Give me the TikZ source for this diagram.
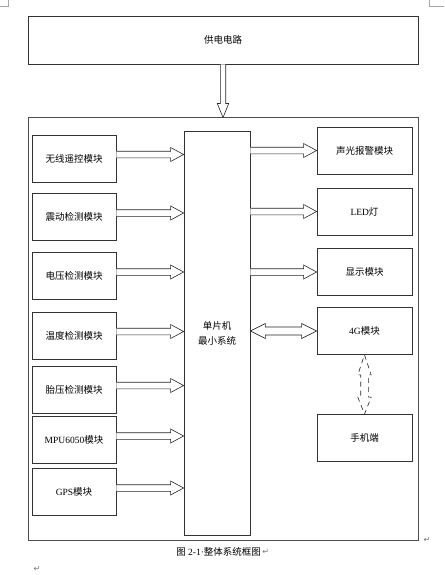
\documentclass[tikz,border=0pt]{standalone}
\usepackage{fontspec}
\setmainfont{Noto Sans CJK SC}
\newfontfamily\lat{Liberation Serif}
\newfontfamily\sym{DejaVu Sans}
\usetikzlibrary{calc}

\tikzset{
  box/.style={draw=black!80, line width=0.8pt, inner sep=0pt, font=\fontsize{9.5}{15}\selectfont},
  module/.style={box, minimum width=84pt, minimum height=47pt},
  outmodule/.style={box, minimum width=95pt, minimum height=47pt},
  hollow/.style={draw=black!85, line width=0.6pt, fill=white},
  cornermark/.style={draw=black!35, line width=0.5pt},
  retmark/.style={text=black!55, inner sep=0pt, font=\sym\fontsize{8}{8}\selectfont},
}

% hollow arrow to the right: #1 start, #2 end (x only)
\newcommand{\fatright}[2]{%
  \draw[hollow] let \p1=(#1), \p2=(#2) in
    (\x1,\y1+3.3pt) -- (\x2-13pt,\y1+3.3pt) -- (\x2-13pt,\y1+7pt) -- (\x2,\y1)
    -- (\x2-13pt,\y1-7pt) -- (\x2-13pt,\y1-3.3pt) -- (\x1,\y1-3.3pt);}
% hollow arrow with two heads
\newcommand{\fatboth}[2]{%
  \draw[hollow] let \p1=(#1), \p2=(#2) in
    (\x1,\y1) -- (\x1+15pt,\y1+7.5pt) -- (\x1+15pt,\y1+4pt) -- (\x2-15pt,\y1+4pt)
    -- (\x2-15pt,\y1+7.5pt) -- (\x2,\y1) -- (\x2-15pt,\y1-7.5pt) -- (\x2-15pt,\y1-4pt)
    -- (\x1+15pt,\y1-4pt) -- (\x1+15pt,\y1-7.5pt) -- cycle;}
% hollow arrow downwards
\newcommand{\fatdown}[2]{%
  \draw[hollow] let \p1=(#1), \p2=(#2) in
    (\x1-2.7pt,\y1) -- (\x1-2.7pt,\y2+14pt) -- (\x1-5.7pt,\y2+14pt) -- (\x1,\y2)
    -- (\x1+5.7pt,\y2+14pt) -- (\x1+2.7pt,\y2+14pt) -- (\x1+2.7pt,\y1);}
% dashed hollow arrow, two heads, vertical
\newcommand{\fatvert}[2]{%
  \draw[hollow, dash pattern=on 5pt off 4pt] let \p1=(#1), \p2=(#2) in
    (\x1,\y1) -- (\x1+6.7pt,\y1-20pt) -- (\x1+3.8pt,\y1-20pt) -- (\x1+3.8pt,\y2+17pt)
    -- (\x1+6.7pt,\y2+17pt) -- (\x1,\y2) -- (\x1-6.7pt,\y2+17pt) -- (\x1-3.8pt,\y2+17pt)
    -- (\x1-3.8pt,\y1-20pt) -- (\x1-6.7pt,\y1-20pt) -- cycle;}

\begin{document}
\begin{tikzpicture}[x=1pt, y=-1pt]
  \useasboundingbox (0,0) rectangle (444,575);
  % page corner marks
  \draw[cornermark] (8,0) -- (8,6.5) -- (0,6.5);
  \draw[cornermark] (429,0) -- (429,6.5) -- (444,6.5);

  % power supply and frame
  \node[box, minimum width=390pt, minimum height=48pt] (power) at (223,40) {供电电路};
  \node[box, draw=black!70, line width=1pt, minimum width=390pt, minimum height=422pt] (frame) at (223,329) {};

  % central controller
  \node[box, minimum width=66pt, minimum height=404pt, align=center] (mcu) at (217,333) {单片机\\最小系统};

  % input modules
  \node[module] (inRemote) at (74,158.5) {无线遥控模块};
  \node[module] (inShock)  at (74,217)   {震动检测模块};
  \node[module] (inVolt)   at (74,276)   {电压检测模块};
  \node[module] (inTemp)   at (74,335.5) {温度检测模块};
  \node[module] (inTyre)   at (74,389.5) {胎压检测模块};
  \node[module] (inMpu)    at (74,440)   {{\lat MPU6050}模块};
  \node[module] (inGps)    at (74,492)   {{\lat GPS}模块};

  % output modules
  \node[outmodule] (outAlarm) at (364.5,150.5) {声光报警模块};
  \node[outmodule] (outLed)   at (364.5,211.5) {{\lat LED}灯};
  \node[outmodule] (outShow)  at (364.5,272)   {显示模块};
  \node[outmodule] (net4g)    at (364.5,331)   {{\lat 4G}模块};
  \node[outmodule] (phone)    at (364.5,438)   {手机端};

  % arrows
  \fatdown{power.south}{frame.north}
  \foreach \m in {inRemote,inShock,inVolt,inTemp,inTyre,inMpu,inGps}
    {\fatright{$(\m.east)+(0,-4)$}{mcu.west}}
  \foreach \m in {outAlarm,outLed,outShow}
    {\fatright{mcu.east |- \m.west}{\m.west}}
  \fatboth{mcu.east |- net4g.west}{net4g.west}
  \fatvert{net4g.south}{phone.north}

  % caption
  \node[font=\fontsize{9.5}{12}\selectfont, inner sep=0pt] (caption) at (218.7,551.5) {图 {\lat 2-1·}整体系统框图};
  \node[retmark, right=1pt] (retCap) at (caption.east) {↵};
  \node[retmark] (retFrame) at (427,540) {↵};
  \node[retmark] (retPage) at (37,569) {↵};
\end{tikzpicture}
\end{document}
